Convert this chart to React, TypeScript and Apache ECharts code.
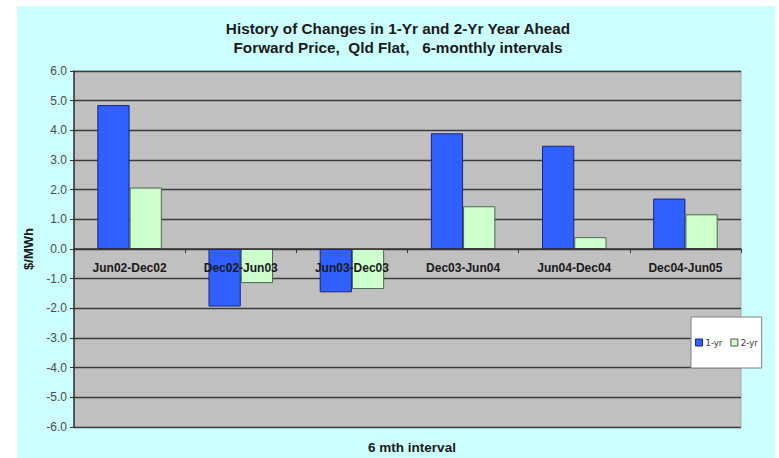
import React, { useEffect, useRef } from "react";
import * as echarts from "echarts";

const categories = [
  "Jun02-Dec02",
  "Dec02-Jun03",
  "Jun03-Dec03",
  "Dec03-Jun04",
  "Jun04-Dec04",
  "Dec04-Jun05",
];
const oneYear = [4.85, -1.94, -1.46, 3.9, 3.48, 1.7];
const twoYear = [2.07, -1.15, -1.35, 1.44, 0.4, 1.17];

const titleLines = [
  "History of Changes in 1-Yr and 2-Yr Year Ahead",
  "Forward Price,  Qld Flat,   6-monthly intervals",
];
const xAxisTitle = "6 mth interval";

const FONT = "Liberation Sans, Arial, sans-serif";

export default function App() {
  const ref = useRef<HTMLDivElement>(null);

  useEffect(() => {
    if (!ref.current) return;
    const chart = echarts.init(ref.current, undefined, { renderer: "svg" });
    chart.setOption({
      animation: false,
      graphic: [
        {
          type: "rect",
          z: -10,
          shape: { x: 17, y: 6, width: 758, height: 452 },
          style: { fill: "#ccffff" },
          silent: true,
        },
        ...titleLines.map((line, i) => ({
          type: "text",
          x: 398,
          y: 28 + i * 19,
          style: {
            text: line,
            align: "center",
            verticalAlign: "middle",
            font: `bold 15.3px ${FONT}`,
            fill: "#1a1a1a",
          },
        })),
        {
          type: "text",
          x: 412,
          y: 447,
          style: {
            text: xAxisTitle,
            align: "center",
            verticalAlign: "middle",
            font: `bold 13.5px ${FONT}`,
            fill: "#1a1a1a",
          },
        },
      ],
      legend: {
        left: 691,
        top: 317,
        orient: "horizontal",
        backgroundColor: "#ffffff",
        borderColor: "#808080",
        borderWidth: 1,
        padding: [21, 4],
        itemWidth: 7,
        itemHeight: 7,
        itemGap: 8,
        icon: "rect",
        textStyle: {
          fontFamily: "DejaVu Sans, sans-serif",
          fontSize: 8.5,
          color: "#333",
          padding: [0, 0, 0, -2],
        },
        data: [
          { name: "1-yr", itemStyle: { borderColor: "#1a237e", borderWidth: 1 } },
          { name: "2-yr", itemStyle: { borderColor: "#555", borderWidth: 1 } },
        ],
      },
      grid: {
        left: 74,
        top: 71,
        width: 667,
        height: 356,
        show: true,
        backgroundColor: "#c0c0c0",
        borderColor: "#a8a8a8",
        borderWidth: 1,
      },
      xAxis: {
        type: "category",
        data: categories,
        z: 10,
        // category axis sits on the zero line (halfway up the -6..6 range)
        offset: -178,
        axisLine: { onZero: false, lineStyle: { color: "#333", width: 1.5 } },
        axisTick: { show: true, length: 4, lineStyle: { color: "#333" } },
        axisLabel: {
          margin: 13,
          fontFamily: FONT,
          fontSize: 12,
          fontWeight: "bold",
          color: "#1a1a1a",
        },
        splitLine: { show: false },
      },
      yAxis: {
        type: "value",
        min: -6,
        max: 6,
        interval: 1,
        name: "$/MWh",
        nameLocation: "middle",
        nameGap: 38,
        nameTextStyle: {
          fontFamily: FONT,
          fontSize: 13,
          fontWeight: "bold",
          color: "#1a1a1a",
        },
        axisLine: { show: true, lineStyle: { color: "#333", width: 1.5 } },
        axisTick: { show: true, length: 4, lineStyle: { color: "#333" } },
        axisLabel: {
          margin: 7,
          fontFamily: FONT,
          fontSize: 12,
          color: "#4a4a4a",
          formatter: (v: number) => v.toFixed(1),
        },
        splitLine: { show: true, lineStyle: { color: "#3c3c3c", width: 1.3 } },
      },
      series: [
        {
          name: "1-yr",
          type: "bar",
          data: oneYear,
          barGap: "0%",
          barCategoryGap: "42%",
          itemStyle: { color: "#3060ff", borderColor: "#1a237e", borderWidth: 1 },
        },
        {
          name: "2-yr",
          type: "bar",
          data: twoYear,
          itemStyle: { color: "#ccffcc", borderColor: "#4f664f", borderWidth: 1 },
        },
      ],
    });
    return () => chart.dispose();
  }, []);

  return (
    <div
      ref={ref}
      style={{ position: "absolute", left: 0, top: 0, width: 779, height: 458, background: "#ffffff" }}
    />
  );
}
